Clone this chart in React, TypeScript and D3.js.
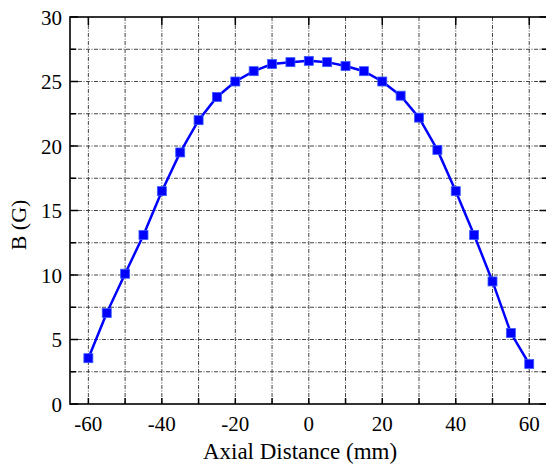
import React from "react";
import * as d3 from "d3";

const distances = [-60, -55, -50, -45, -40, -35, -30, -25, -20, -15, -10, -5, 0, 5, 10, 15, 20, 25, 30, 35, 40, 45, 50, 55, 60];
const fieldB = [3.55, 7.05, 10.1, 13.1, 16.5, 19.5, 22.0, 23.8, 25.0, 25.8, 26.35, 26.5, 26.6, 26.5, 26.2, 25.8, 25.0, 23.9, 22.2, 19.7, 16.5, 13.1, 9.5, 5.5, 3.1];
const xMajorTicks = [-60, -40, -20, 0, 20, 40, 60];
const xMinorTicks = [-60, -50, -40, -30, -20, -10, 0, 10, 20, 30, 40, 50, 60];
const yMajorTicks = [0, 5, 10, 15, 20, 25, 30];
const yMinorTicks = [2.5, 7.5, 12.5, 17.5, 22.5, 27.5];
const xTitle = "Axial Distance (mm)";
const yTitle = "B (G)";

export default function App() {
  const W = 546, H = 466;
  const left = 70, right = 547.6, top = 17, bottom = 404;
  const x = d3.scaleLinear().domain([-65, 65]).range([left, right]);
  const y = d3.scaleLinear().domain([0, 30]).range([bottom, top]);
  const line = d3.line<number>().x((_, i) => x(distances[i])).y((d) => y(d));
  const fontStyle = { fontFamily: "'Liberation Serif', 'DejaVu Serif', 'Noto Serif', 'Times New Roman', Times, serif" };
  const grid = "#444";
  const dash = "4,1.5,1,1.5";
  const gridX = xMinorTicks;
  const gridY = [...yMajorTicks, ...yMinorTicks].filter((v) => v > 0 && v < 30);
  return (
    <svg width={W} height={H} style={{ position: "absolute", left: 0, top: 0, background: "#fff" }}>
      {/* grid */}
      {gridX.map((v) => (
        <line key={"gx" + v} x1={x(v)} x2={x(v)} y1={top} y2={bottom} stroke={grid} strokeWidth={1} strokeDasharray={dash} />
      ))}
      {gridY.map((v) => (
        <line key={"gy" + v} x1={left} x2={right} y1={y(v)} y2={y(v)} stroke={grid} strokeWidth={1} strokeDasharray={dash} />
      ))}
      {/* frame */}
      <rect x={left} y={top} width={right - left} height={bottom - top} fill="none" stroke="#000" strokeWidth={1.6} />
      {/* ticks */}
      {xMinorTicks.map((v) => (
        <line key={"bt" + v} x1={x(v)} x2={x(v)} y1={bottom} y2={bottom - 6} stroke="#000" strokeWidth={1.5} />
      ))}
      {xMajorTicks.map((v) => (
        <line key={"tt" + v} x1={x(v)} x2={x(v)} y1={top} y2={top + 8} stroke="#000" strokeWidth={1.5} />
      ))}
      {yMajorTicks.map((v) => (
        <g key={"ly" + v}>
          <line x1={left} x2={left + 8} y1={y(v)} y2={y(v)} stroke="#000" strokeWidth={1.5} />
          <line x1={right} x2={right - 8} y1={y(v)} y2={y(v)} stroke="#000" strokeWidth={1.5} />
        </g>
      ))}
      {yMinorTicks.map((v) => (
        <g key={"my" + v}>
          <line x1={left} x2={left + 6} y1={y(v)} y2={y(v)} stroke="#000" strokeWidth={1.5} />
          <line x1={right} x2={right - 6} y1={y(v)} y2={y(v)} stroke="#000" strokeWidth={1.5} />
        </g>
      ))}
      {/* tick labels */}
      {xMajorTicks.map((v) => (
        <text key={"xl" + v} x={x(v)} y={431} textAnchor="middle" style={fontStyle} fontSize={21} fill="#000">
          {v}
        </text>
      ))}
      {yMajorTicks.map((v) => (
        <text key={"yl" + v} x={62} y={y(v) + 7.5} textAnchor="end" style={fontStyle} fontSize={21} fill="#000">
          {v}
        </text>
      ))}
      {/* titles */}
      <text x={300} y={459} textAnchor="middle" style={fontStyle} fontSize={23} fill="#000">
        {xTitle}
      </text>
      <text transform={`translate(26, ${225}) rotate(-90)`} textAnchor="middle" style={fontStyle} fontSize={22} fill="#000">
        {yTitle}
      </text>
      {/* data */}
      <path d={line(fieldB) || ""} fill="none" stroke="#0000ff" strokeWidth={2.5} />
      {fieldB.map((v, i) => (
        <rect key={"p" + i} x={x(distances[i]) - 4.5} y={y(v) - 4.5} width={9} height={9} fill="#0000ff" stroke="#3a5cff" strokeWidth={0.8} />
      ))}
    </svg>
  );
}
